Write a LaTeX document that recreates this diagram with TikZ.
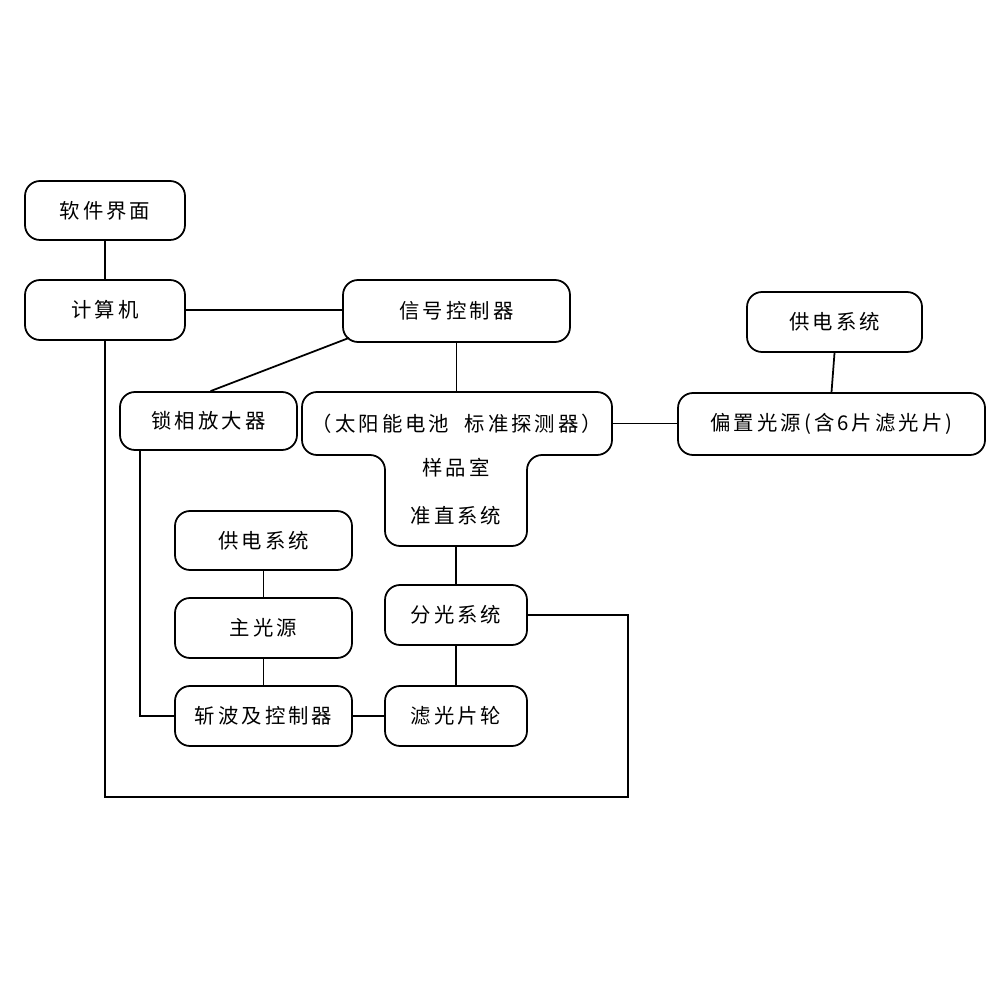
\documentclass[tikz,border=0pt]{standalone}
\usepackage{fontspec}
\newfontfamily\cjk[LetterSpace=15]{Noto Sans CJK SC}
\begin{document}
\begin{tikzpicture}[line width=0.5pt,
  box/.style={draw,rounded corners=0.15cm,align=center,inner sep=0pt},
  lbl/.style={inner sep=0pt},
  every node/.style={font=\cjk\fontsize{5.8}{7}\selectfont}]
\useasboundingbox (0,0) rectangle (10,-10);
\node[box,minimum width=1.6cm,minimum height=0.59cm] (rj) at (1.05,-2.105) {软件界面};
\node[box,minimum width=1.6cm,minimum height=0.6cm] (jsj) at (1.05,-3.10) {计算机};
\node[box,minimum width=2.27cm,minimum height=0.62cm] (xh) at (4.565,-3.11) {信号控制器};
\node[box,minimum width=1.75cm,minimum height=0.6cm] (gR) at (8.345,-3.22) {供电系统};
\node[box,minimum width=1.77cm,minimum height=0.58cm] (sx) at (2.085,-4.21) {锁相放大器};
\node[box,minimum width=3.07cm,minimum height=0.62cm] (pz) at (8.315,-4.24) {偏置光源(含6片滤光片)};
\node[box,minimum width=1.77cm,minimum height=0.59cm] (gL) at (2.635,-5.405) {供电系统};
\node[box,minimum width=1.77cm,minimum height=0.6cm] (zg) at (2.635,-6.28) {主光源};
\node[box,minimum width=1.77cm,minimum height=0.6cm] (zb) at (2.635,-7.16) {斩波及控制器};
\node[box,minimum width=1.42cm,minimum height=0.6cm] (fg) at (4.56,-6.15) {分光系统};
\node[box,minimum width=1.42cm,minimum height=0.6cm] (lg) at (4.56,-7.16) {滤光片轮};
% T-shaped block
\draw[rounded corners=0.15cm] (3.02,-3.92) -- (6.12,-3.92) -- (6.12,-4.55) -- (5.27,-4.55) -- (5.27,-5.46) -- (3.85,-5.46) -- (3.85,-4.55) -- (3.02,-4.55) -- cycle;
\node[lbl,minimum width=3.10cm,minimum height=0.63cm] (tt) at (4.57,-4.235) {（太阳能电池\ \ 标准探测器）};
\node[lbl,minimum width=1.42cm,minimum height=0.91cm] (tb) at (4.56,-5.005) {};
\node[lbl] (yp) at (4.56,-4.68) {样品室};
\node[lbl] (zz) at (4.56,-5.16) {准直系统};
\coordinate (c1) at (6.28,-7.97);
% connectors
\draw (rj.south) -- (jsj.north);
\draw (jsj.east) -- (jsj.east -| xh.west);
\draw ([xshift=0.07cm,yshift=0.05cm]xh.south west) -- ([xshift=0.02cm]sx.north);
\draw (xh.south) -- (xh.south |- tt.north);
\draw (gR.south) -- (pz.north);
\draw (tt.east) -- (tt.east -| pz.west);
\draw (tb.south) -- (fg.north);
\draw (fg.south) -- (lg.north);
\draw (lg.west) -- (zb.east);
\draw (gL.south) -- (zg.north);
\draw (zg.south) -- (zb.north);
\draw ([xshift=-0.685cm]sx.south) |- (zb.west);
\draw (jsj.south) |- (c1) |- (fg.east);
\end{tikzpicture}
\end{document}
